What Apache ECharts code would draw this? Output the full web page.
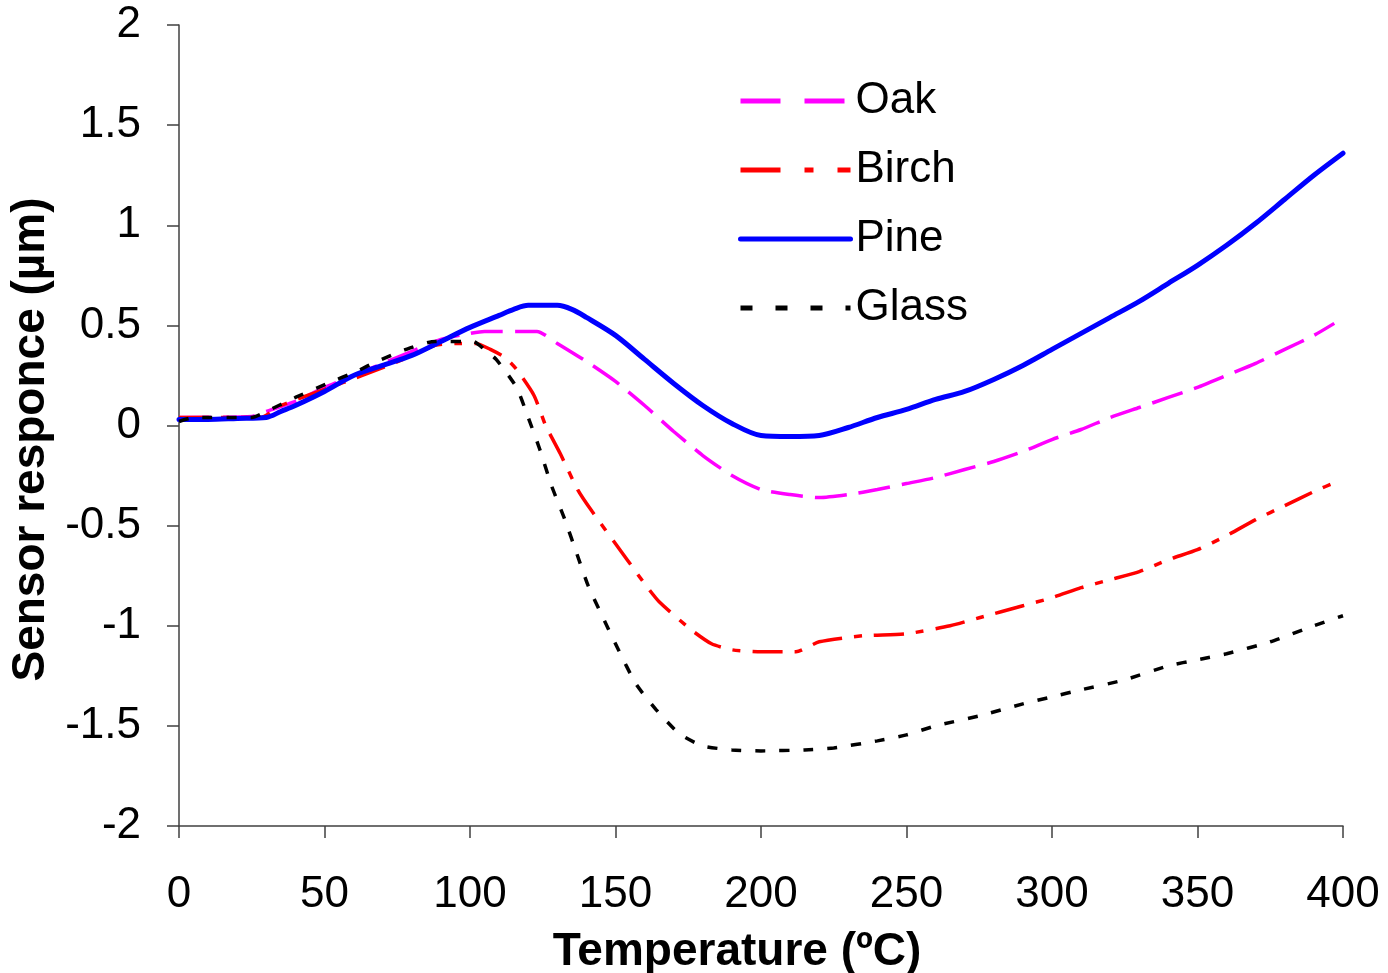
<!DOCTYPE html>
<html>
<head>
<meta charset="utf-8">
<script src="https://cdn.jsdelivr.net/npm/echarts@6/dist/echarts.min.js"></script>
<style>
  html, body { margin: 0; padding: 0; background: #ffffff; }
  #chart { width: 1388px; height: 973px; }
</style>
</head>
<body>
<div id="chart"></div>
<script>
// Sensor response versus temperature for three wood species and a glass reference
const oakT   = [0, 25, 30, 40, 50, 60, 70, 80, 90, 100, 105, 123, 130, 140, 150, 160, 170, 180, 190, 200, 210, 220, 230, 240, 250, 260, 270, 280, 290, 300, 310, 320, 330, 340, 350, 360, 370, 380, 390, 397];
const oakV   = [0.04, 0.045, 0.07, 0.12, 0.19, 0.25, 0.31, 0.37, 0.43, 0.46, 0.47, 0.47, 0.41, 0.32, 0.22, 0.10, -0.03, -0.15, -0.25, -0.32, -0.345, -0.36, -0.345, -0.32, -0.29, -0.26, -0.22, -0.18, -0.13, -0.07, -0.02, 0.04, 0.09, 0.14, 0.19, 0.25, 0.31, 0.38, 0.45, 0.51];

const birchT = [0, 28, 35, 50, 63, 77, 88, 95, 102, 107, 112, 116, 122, 126, 131, 137, 142, 154, 160, 165, 176, 183, 190, 200, 212, 220, 235, 250, 265, 275, 290, 300, 310, 320, 330, 340, 350, 360, 370, 380, 390, 398];
const birchV = [0.04, 0.04, 0.10, 0.18, 0.25, 0.33, 0.40, 0.41, 0.41, 0.38, 0.34, 0.28, 0.15, 0.0, -0.14, -0.32, -0.43, -0.67, -0.79, -0.88, -1.02, -1.09, -1.12, -1.13, -1.13, -1.08, -1.05, -1.04, -1.0, -0.96, -0.90, -0.86, -0.81, -0.77, -0.73, -0.67, -0.62, -0.55, -0.47, -0.40, -0.33, -0.28];

const pineT  = [0, 10, 20, 30, 35, 40, 50, 60, 70, 80, 90, 100, 110, 115, 120, 130, 135, 140, 150, 160, 170, 180, 190, 200, 210, 220, 230, 240, 250, 260, 270, 280, 290, 300, 310, 320, 330, 340, 350, 360, 370, 380, 390, 400];
const pineV  = [0.03, 0.03, 0.035, 0.04, 0.07, 0.10, 0.17, 0.25, 0.30, 0.35, 0.42, 0.49, 0.55, 0.58, 0.60, 0.60, 0.58, 0.54, 0.45, 0.33, 0.21, 0.10, 0.01, -0.05, -0.055, -0.05, -0.01, 0.04, 0.08, 0.13, 0.17, 0.23, 0.30, 0.38, 0.46, 0.54, 0.62, 0.71, 0.80, 0.90, 1.01, 1.13, 1.25, 1.36];

const glassT = [0, 5, 25, 30, 40, 51, 61, 68, 78, 88, 101, 105, 109, 116, 120, 124, 128, 132.6, 136.7, 140.6, 145.7, 151, 157, 164, 172, 180, 190, 200, 215, 225, 240, 250, 260, 275, 290, 300, 310, 325, 340, 350, 360, 375, 390, 400];
const glassV = [0.02, 0.04, 0.04, 0.07, 0.14, 0.21, 0.27, 0.32, 0.38, 0.42, 0.42, 0.38, 0.33, 0.19, 0.04, -0.12, -0.30, -0.47, -0.64, -0.80, -0.96, -1.12, -1.29, -1.42, -1.54, -1.60, -1.62, -1.625, -1.62, -1.61, -1.575, -1.545, -1.50, -1.45, -1.39, -1.355, -1.32, -1.27, -1.20, -1.17, -1.14, -1.08, -1.0, -0.95];

const seriesNames = ['Oak', 'Birch', 'Pine', 'Glass'];
const xTitle = 'Temperature (ºC)';
const yTitle = 'Sensor responce (µm)';

const pairs = (t, v) => t.map((x, i) => [x, v[i]]);
const FONT = '"Liberation Sans", Arial, sans-serif';
const axisColor = '#404040';

const chart = echarts.init(document.getElementById('chart'), null, { renderer: 'canvas' });

chart.setOption({
  animation: false,
  backgroundColor: '#ffffff',
  grid: { left: 179, right: 45, top: 25, bottom: 147, containLabel: false, outerBoundsMode: 'none' },
  legend: {
    orient: 'vertical',
    left: 733,
    top: 74,
    itemWidth: 110,
    itemHeight: 20,
    itemGap: 25,
    itemStyle: { opacity: 0 },
    textStyle: { fontFamily: FONT, fontSize: 44, color: '#000000' },
    data: [
      { name: seriesNames[0], lineStyle: { width: 5, type: [40, 24] } },
      { name: seriesNames[1], lineStyle: { width: 5, type: [40, 24, 9, 24] } },
      { name: seriesNames[2], lineStyle: { width: 5, type: 'solid', cap: 'round' } },
      { name: seriesNames[3], lineStyle: { width: 5, type: [12, 23] } }
    ]
  },
  xAxis: {
    type: 'value',
    min: 0, max: 400, interval: 50,
    name: xTitle,
    nameLocation: 'middle',
    nameGap: 103,
    nameTextStyle: { fontFamily: FONT, fontSize: 46, fontWeight: 'bold', color: '#000000', padding: [0, 48, 0, 0] },
    axisLine: { show: true, onZero: false, lineStyle: { color: axisColor, width: 1.5 } },
    axisTick: { show: true, inside: false, length: 12, lineStyle: { color: axisColor, width: 1.5 } },
    axisLabel: { fontFamily: FONT, fontSize: 44, color: '#000000', margin: 47 },
    splitLine: { show: false }
  },
  yAxis: {
    type: 'value',
    min: -2, max: 2, interval: 0.5,
    name: yTitle,
    nameLocation: 'middle',
    nameGap: 121,
    nameRotate: 90,
    nameTextStyle: { fontFamily: FONT, fontSize: 46, fontWeight: 'bold', color: '#000000', padding: [0, 28, 0, 0] },
    axisLine: { show: true, onZero: false, lineStyle: { color: axisColor, width: 1.5 } },
    axisTick: { show: true, inside: false, length: 12, lineStyle: { color: axisColor, width: 1.5 } },
    axisLabel: { fontFamily: FONT, fontSize: 44, color: '#000000', margin: 38 },
    splitLine: { show: false }
  },
  series: [
    {
      name: seriesNames[0], type: 'line', symbol: 'none', smooth: 0.2,
      data: pairs(oakT, oakV),
      lineStyle: { color: '#ff00ff', width: 3.5, type: [32, 12] },
      itemStyle: { color: '#ff00ff' }
    },
    {
      name: seriesNames[1], type: 'line', symbol: 'none', smooth: 0.2,
      data: pairs(birchT, birchV),
      lineStyle: { color: '#ff0000', width: 3.5, type: [30, 12, 8, 12] },
      itemStyle: { color: '#ff0000' }
    },
    {
      name: seriesNames[2], type: 'line', symbol: 'none', smooth: 0.3,
      data: pairs(pineT, pineV),
      lineStyle: { color: '#0000ff', width: 5, cap: 'round', join: 'round' },
      itemStyle: { color: '#0000ff' }
    },
    {
      name: seriesNames[3], type: 'line', symbol: 'none', smooth: 0.2,
      data: pairs(glassT, glassV),
      lineStyle: { color: '#000000', width: 3.5, type: [10, 14] },
      itemStyle: { color: '#000000' }
    }
  ]
});
</script>
</body>
</html>
